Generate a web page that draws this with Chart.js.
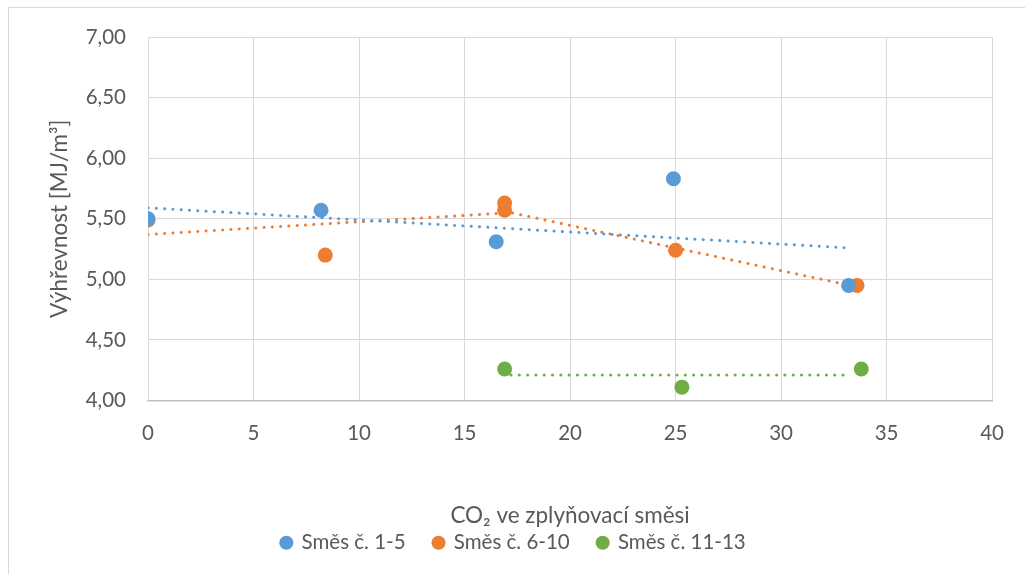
<!DOCTYPE html>
<html>
<head>
<meta charset="utf-8">
<script src="https://cdn.jsdelivr.net/npm/chart.js@4/dist/chart.umd.min.js"></script>
<style>
  html, body { margin: 0; padding: 0; background: #fff; }
  #wrap { position: relative; width: 1025px; height: 574px; overflow: hidden; }
  #frame { position: absolute; left: 8px; top: 7px; width: 1100px; height: 700px; border: 1px solid #d9d9d9; box-sizing: border-box; }
  canvas { position: absolute; left: 0; top: 0; }
</style>
</head>
<body>
<div id="wrap">
  <div id="frame"></div>
  <canvas id="chart" width="1025" height="574"></canvas>
</div>
<script>
// measured values (CO2 %, heating value MJ/m3)
const mix1X = [0, 8.2, 16.5, 24.9, 33.2];
const mix1Y = [5.50, 5.57, 5.31, 5.83, 4.95];
const mix2X = [0, 8.4, 16.9, 16.9, 25.0, 33.6];
const mix2Y = [5.49, 5.20, 5.63, 5.57, 5.24, 4.95];
const mix3X = [16.9, 25.3, 33.8];
const mix3Y = [4.26, 4.11, 4.26];

// trend lines
const trend1X = [0, 33.1];
const trend1Y = [5.59, 5.26];
const trend2X = [0, 17.2, 33.0];
const trend2Y = [5.37, 5.55, 4.96];
const trend3X = [17.2, 33.3];
const trend3Y = [4.21, 4.21];

const seriesNames = ['Směs č. 1-5', 'Směs č. 6-10', 'Směs č. 11-13'];
const colors = ['#5B9BD5', '#ED7D31', '#70AD47'];
const yTicks = [4, 4.5, 5, 5.5, 6, 6.5, 7];

const FONT = 'Lato, "Open Sans", sans-serif';
const TXT = '#595959';

function pts(xs, ys) {
    return xs.map((x, i) => ({ x: x, y: ys[i] }));
}

function pointSet(i, xs, ys) {
    return {
        label: seriesNames[i],
        data: pts(xs, ys),
        showLine: false,
        backgroundColor: colors[i],
        borderColor: colors[i],
        pointRadius: 7.5,
        pointHoverRadius: 7.5,
        pointBorderWidth: 0,
        order: 0
    };
}

function trendSet(i, xs, ys) {
    return {
        label: 'trend' + i,
        data: pts(xs, ys),
        showLine: true,
        borderColor: colors[i],
        borderWidth: 3,
        borderDash: [0.1, 8.2],
        borderCapStyle: 'round',
        pointRadius: 0,
        fill: false,
        order: 1
    };
}

new Chart(document.getElementById('chart'), {
    type: 'scatter',
    data: {
        datasets: [
            pointSet(0, mix1X, mix1Y),
            pointSet(1, mix2X, mix2Y),
            pointSet(2, mix3X, mix3Y),
            trendSet(0, trend1X, trend1Y),
            trendSet(1, trend2X, trend2Y),
            trendSet(2, trend3X, trend3Y)
        ]
    },
    options: {
        responsive: false,
        animation: false,
        layout: { padding: { top: 37, right: 28, left: 30, bottom: 11 } },
        plugins: {
            tooltip: { enabled: false },
            legend: {
                position: 'bottom',
                labels: {
                    filter: item => item.datasetIndex < 3,
                    usePointStyle: true,
                    pointStyle: 'circle',
                    boxHeight: 10,
                    boxWidth: 10,
                    padding: 28,
                    color: TXT,
                    font: { family: FONT, size: 20.5 }
                }
            }
        },
        scales: {
            x: {
                type: 'linear',
                min: 0,
                max: 40,
                afterFit: s => { s.height = 104; },
                ticks: {
                    stepSize: 5,
                    padding: 21,
                    color: TXT,
                    font: { family: FONT, size: 20.5 }
                },
                grid: { color: '#d9d9d9', lineWidth: 1, drawTicks: false },
                border: { color: '#bfbfbf', width: 1.5 },
                title: {
                    display: true,
                    text: 'CO₂ ve zplyňovací směsi',
                    color: TXT,
                    font: { family: FONT, size: 22.5 },
                    padding: { top: 0, bottom: -25 }
                }
            },
            y: {
                type: 'linear',
                min: 4,
                max: 7,
                afterFit: s => { s.width = 118; },
                afterBuildTicks: s => { s.ticks = yTicks.map(v => ({ value: v })); },
                ticks: {
                    padding: 22,
                    color: TXT,
                    font: { family: FONT, size: 20.5 },
                    callback: v => v.toFixed(2).replace('.', ',')
                },
                grid: { color: '#d9d9d9', lineWidth: 1, drawTicks: false },
                border: { color: '#d9d9d9', width: 1 },
                title: {
                    display: true,
                    text: 'Výhřevnost [MJ/m³]',
                    color: TXT,
                    font: { family: FONT, size: 22.5 },
                    padding: { top: 16, bottom: 0 }
                }
            }
        }
    }
});
</script>
</body>
</html>
